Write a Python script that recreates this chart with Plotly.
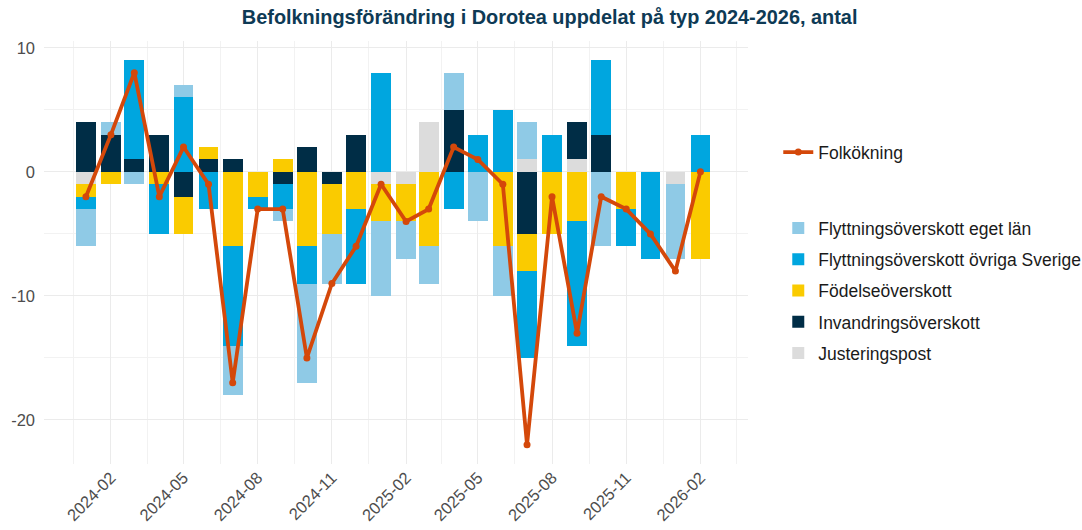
import plotly.graph_objects as go
import pandas as pd

months = pd.date_range("2024-01-01", "2026-02-01", freq="MS")

eget_lan = [-3, 1, -1, 0, 1, 0, -4, 0, -1, -8, -4, 0, -6, -3, -3, 3, -4, -4, 3, 0, 0, -6, 0, 0, -6, 0]
ovriga_sverige = [-1, 0, 8, -4, 6, -3, -8, -1, -2, -3, 0, -6, 8, 0, 0, -3, 3, 5, -7, 3, -10, 6, -3, -7, 0, 3]
fodelse = [-1, -1, 0, -1, -3, 1, -6, -2, 1, -6, -4, -3, -3, -3, -6, 0, 0, -6, -3, -5, -4, 0, -3, 0, 0, -7]
invandring = [4, 3, 1, 3, -2, 1, 1, 0, -1, 2, -1, 3, 0, 0, 0, 5, 0, 0, -5, 0, 3, 3, 0, 0, 0, 0]
justering = [-1, 0, 0, 0, 0, 0, 0, 0, 0, 0, 0, 0, -1, -1, 4, 0, 0, 0, 1, 0, 1, 0, 0, 0, -1, 0]
folkokning = [-2, 3, 8, -2, 2, -1, -17, -3, -3, -15, -9, -6, -1, -4, -3, 2, 1, -1, -22, -2, -13, -2, -3, -5, -8, 0]

tick_labels = ["2024-02", "2024-05", "2024-08", "2024-11", "2025-02", "2025-05", "2025-08", "2025-11", "2026-02"]
tick_vals = [pd.Timestamp(t + "-01") for t in tick_labels]

FONT = "Liberation Sans, Arial, sans-serif"
bar_width_ms = 24.5 * 86400000

# stacking order (closest to zero first), with legend rank
series = [
    ("Justeringspost", justering, "#DCDCDC", 5),
    ("Invandringsöverskott", invandring, "#002D46", 4),
    ("Födelseöverskott", fodelse, "#FACB00", 3),
    ("Flyttningsöverskott övriga Sverige", ovriga_sverige, "#00A6DF", 2),
    ("Flyttningsöverskott eget län", eget_lan, "#8FCAE6", 1),
]

fig = go.Figure()
for name, vals, col, rank in series:
    fig.add_trace(go.Bar(
        x=months, y=vals, name=name, marker=dict(color=col, line=dict(width=0)),
        width=bar_width_ms, legend="legend2", legendrank=rank, legendgroup=name,
        showlegend=True,
    ))
fig.add_trace(go.Scatter(
    x=months, y=folkokning, name="Folkökning", mode="lines+markers",
    line=dict(color="#D4480A", width=3.8), marker=dict(color="#D4480A", size=7),
    legend="legend", showlegend=True,
))

# minor gridlines halfway between major ticks
minor_vals = []
for i in range(len(tick_vals) + 1):
    if i == 0:
        a = tick_vals[0] - pd.DateOffset(months=3); b = tick_vals[0]
    elif i == len(tick_vals):
        a = tick_vals[-1]; b = tick_vals[-1] + pd.DateOffset(months=3)
    else:
        a = tick_vals[i - 1]; b = tick_vals[i]
    minor_vals.append(a + (b - a) / 2)

fig.update_layout(
    width=1082, height=530,
    barmode="relative",
    bargap=0,
    showlegend=True,
    plot_bgcolor="white", paper_bgcolor="white",
    margin=dict(l=44, r=334, t=41, b=66, autoexpand=False),
    font=dict(family=FONT, color="#333333"),
    title=dict(
        text="<b>Befolkningsförändring i Dorotea uppdelat på typ 2024-2026, antal</b>",
        x=0.508, xanchor="center", y=0.967, yanchor="middle",
        font=dict(size=19.9, color="#0E3A55", family=FONT),
    ),
    xaxis=dict(
        type="date", range=["2023-11-10", "2026-04-01"],
        tickmode="array", tickvals=tick_vals, ticktext=tick_labels,
        tickangle=-45, tickfont=dict(size=16.5, color="#4D4D4D"),
        showgrid=True, gridcolor="#EBEBEB", gridwidth=1.2,
        minor=dict(tickmode="array", tickvals=minor_vals, showgrid=True, gridcolor="#F2F2F2", gridwidth=0.8),
        zeroline=False, showline=False, ticks="",
    ),
    yaxis=dict(
        range=[-23.55, 10.55],
        tickmode="array", tickvals=[10, 0, -10, -20], ticktext=["10", "0", "-10", "-20"],
        tickfont=dict(size=16.5, color="#4D4D4D"),
        showgrid=True, gridcolor="#EBEBEB", gridwidth=1.2,
        minor=dict(tickmode="array", tickvals=[5, -5, -15], showgrid=True, gridcolor="#F2F2F2", gridwidth=0.8),
        zeroline=False, showline=False, ticks="", ticklabelstandoff=8,
    ),
    legend=dict(
        x=1.043, xanchor="left", y=0.737, yanchor="middle",
        font=dict(size=17.5, color="#1A1A1A"), bgcolor="rgba(0,0,0,0)",
        itemwidth=30, visible=True,
    ),
    legend2=dict(
        x=1.043, xanchor="left", y=0.41, yanchor="middle",
        font=dict(size=17.5, color="#1A1A1A"), bgcolor="rgba(0,0,0,0)",
        traceorder="grouped", tracegroupgap=5.5, itemwidth=30, visible=True,
    ),
)

fig.write_html("out.html", config={"displayModeBar": False},
               post_script="document.body.style.margin='0px';")
